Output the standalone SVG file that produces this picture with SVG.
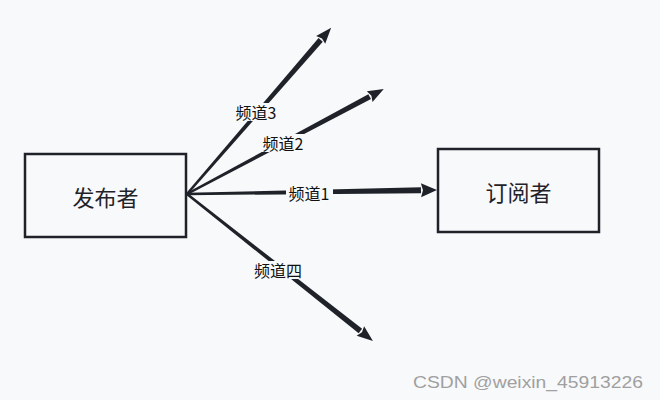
<svg xmlns="http://www.w3.org/2000/svg" width="660" height="400" viewBox="0 0 660 400">
<style>
.box{fill:#f8f9fa;stroke:#1f2329;stroke-width:2.5}
.ntxt{font-family:"Noto Sans CJK SC","Liberation Sans",sans-serif;font-size:22px;fill:#1f2329;text-anchor:middle;dominant-baseline:central}
.arr{fill:#1f2329}
.lbg{fill:#f8f9fa}
.ltxt{font-family:"Noto Sans CJK SC","Liberation Sans",sans-serif;font-size:16px;fill:#111;text-anchor:middle;dominant-baseline:central}
.wm{font-family:"Liberation Sans",sans-serif;font-size:17px;fill:#a0a0a0}
</style>
<rect width="660" height="400" fill="#f8f9fa"/>
<g id="connectors">
  <g id="c3" transform="translate(187,194) rotate(-49.06)">
    <polygon class="arr" points="0,-1.2 204,-2.8 204,2.8 0,1.2"/>
    <polygon class="arr" points="204,-6 220,0 204,6 206,0"/>
  </g>
  <g id="c2" transform="translate(187,194) rotate(-28.06)">
    <polygon class="arr" points="0,-1.2 207,-2.8 207,2.8 0,1.2"/>
    <polygon class="arr" points="207,-6 223,0 207,6 209,0"/>
  </g>
  <g id="c1" transform="translate(187,194) rotate(-0.92)">
    <polygon class="arr" points="0,-1.2 234,-3 234,3 0,1.2"/>
    <polygon class="arr" points="234,-7 250,0 234,7 236,0"/>
  </g>
  <g id="c4" transform="translate(187,194) rotate(38.32)">
    <polygon class="arr" points="0,-1.2 221,-2.8 221,2.8 0,1.2"/>
    <polygon class="arr" points="221,-6 237,0 221,6 223,0"/>
  </g>
  <g id="labels">
    <rect class="lbg" x="233" y="103" width="47" height="18"/>
    <text class="ltxt" x="256" y="112">频道3</text>
    <rect class="lbg" x="260" y="134" width="47" height="18"/>
    <text class="ltxt" x="283" y="143">频道2</text>
    <rect class="lbg" x="286" y="184" width="47" height="18"/>
    <text class="ltxt" x="309" y="193">频道1</text>
    <rect class="lbg" x="250" y="261" width="57" height="18"/>
    <text class="ltxt" x="278" y="270">频道四</text>
  </g>
</g>
<g id="publisher">
  <rect class="box" x="25" y="154" width="161" height="83"/>
  <text class="ntxt" x="105.5" y="196">发布者</text>
</g>
<g id="subscriber">
  <rect class="box" x="438" y="149" width="161" height="83"/>
  <text class="ntxt" x="518.5" y="191">订阅者</text>
</g>
<text class="wm" x="413" y="388" textLength="230" lengthAdjust="spacingAndGlyphs">CSDN @weixin_45913226</text>
</svg>
